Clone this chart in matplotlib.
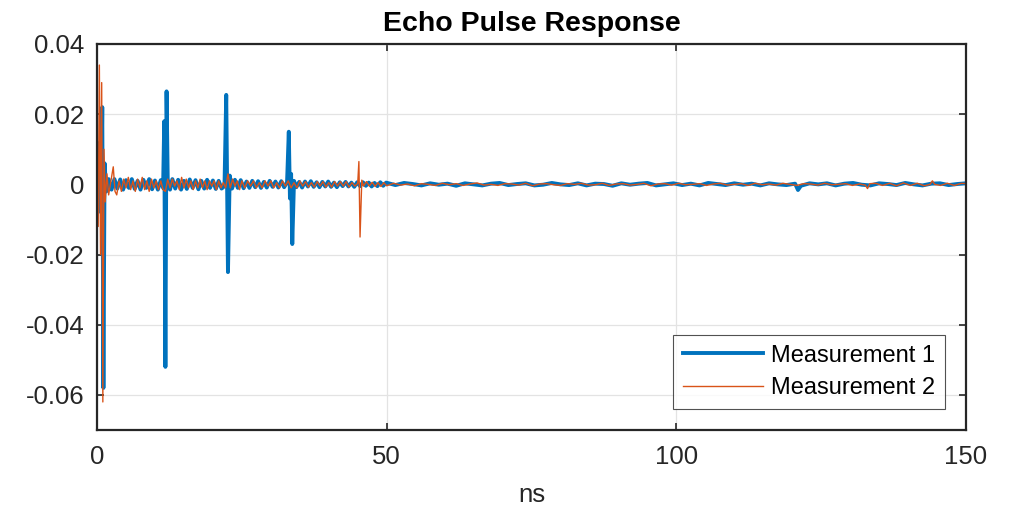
import numpy as np
import matplotlib.pyplot as plt

# ================================================================
# Echo pulse response: two measurements, values read off the plot
# amplitudes are given in units of 1e-3
# ================================================================

t_meas1 = [0, 0.3, 0.5, 0.7, 0.9, 1.1, 1.3, 1.6, 2.0, 2.5, 3.0, 3.5, 4.0, 4.5,
           5.0, 5.5, 6.0, 6.5, 7.0, 7.5, 8.0, 8.5, 9.0, 9.5, 10.0, 10.5, 11.0,
           11.4, 11.6, 11.8, 12.0, 12.2, 12.6, 13.0, 13.5, 14.0, 14.5, 15.0,
           15.5, 16.0, 16.5, 17.0, 17.5, 18.0, 18.5, 19.0, 19.5, 20.0, 20.5,
           21.0, 21.5, 22.0, 22.3, 22.6, 22.9, 23.3, 23.8, 24.3, 24.8, 25.3,
           25.8, 26.3, 26.8, 27.3, 27.8, 28.3, 28.8, 29.3, 29.8, 30.3, 30.8,
           31.3, 31.8, 32.3, 32.8, 33.1, 33.3, 33.5, 33.7, 34.0, 34.4, 34.9,
           35.4, 35.9, 36.4, 36.9, 37.4, 37.9, 38.4, 38.9, 39.4, 39.9, 40.4,
           40.9, 41.4, 41.9, 42.4, 42.9, 43.4, 43.9, 44.4, 44.9, 45.4, 45.9,
           46.4, 46.9, 47.4, 47.9, 48.4, 48.9, 49.4, 49.9,
           51.5, 53, 54.5, 56, 57.5, 59, 60.5, 62, 63.5, 65, 66.5, 68, 69.5,
           71, 72.5, 74, 75.5, 77, 78.5, 80, 81.5, 83, 84.5, 86, 87.5, 89,
           90.5, 92, 93.5, 95, 96.5, 98, 99.5, 101, 102.5, 104, 105.5, 107,
           108.5, 110, 111.5, 113, 114.5, 116, 117.5, 119, 120.5, 121.0,
           121.5, 123, 124.5, 126, 127.5, 129, 130.5, 132, 133.5, 135, 136.5,
           138, 139.5, 141, 142.5, 144, 145.5, 147, 148.5, 150]
v_meas1 = [0, 5, 12, -8, 22, -58, 6, -2, 1.5, -1.5, 1.5, -1.2, 1.4, -1.5,
           1.2, -1.0, 1.5, -1.3, 1.0, -1.5, 1.3, -1.0, 1.5, -1.4, 1.1, -1.5, 1.2,
           -1.0, 18, -52, 26.5, 1.5, -1.5, 1.5, -1.2, 1.3, -1.5, 1.0,
           -1.3, 1.4, -1.0, 1.2, -1.4, 1.0, -1.2, 1.3, -1.0, 1.1, -1.3,
           1.0, -1.2, -0.5, 25.5, -25, 2.5, -1.2, 1.3, -1.0, 1.2, -1.1,
           0.8, -1.0, 1.0, -0.8, 0.9, -1.0, 0.7, -0.9, 1.0, -0.7, 0.8,
           -0.9, 0.9, -0.8, 0.6, 15, -4, 3, -17, 1.0, -0.8, 0.7,
           -0.9, 0.8, -0.6, 0.9, -0.7, 0.6, -0.8, 0.7, -0.6, 0.8, -0.7,
           0.5, -0.8, 0.6, -0.5, 0.7, -0.6, 0.5, -0.7, 0.6, -0.5, 0.6,
           -0.4, 0.5, -0.6, 0.4, -0.5, 0.6, -0.4, 0.5,
           -0.2, 0.4, 0.1, -0.3, 0.3, -0.1, 0.2, -0.4, 0.3, 0.0, -0.3, 0.2, 0.4,
           -0.2, 0.1, 0.3, -0.3, -0.1, 0.4, 0.0, -0.2, 0.3, -0.3, 0.2, 0.1, -0.4,
           0.3, -0.1, 0.2, 0.4, -0.3, 0.0, 0.3, -0.2, 0.2, -0.3, 0.4, 0.1,
           -0.2, 0.3, -0.1, 0.2, -0.3, 0.3, 0.0, -0.2, 0.2, -1.6,
           -0.4, 0.3, 0.0, 0.3, -0.3, 0.2, 0.4, -0.1, -0.3, 0.3, 0.1,
           -0.2, 0.4, 0.0, -0.3, 0.2, 0.3, -0.2, 0.1, 0.3]

t_meas2 = [0, 0.2, 0.4, 0.6, 0.8, 1.0, 1.2, 1.4, 1.7, 2.0, 2.4, 2.8, 3.1, 3.4,
           3.8, 4.2, 4.6, 5.0, 5.4, 5.8, 6.2, 6.6, 7.0, 7.4, 7.8, 8.2, 8.6,
           9.0, 9.4, 9.8, 10.2, 10.6, 11.0, 11.4, 11.8, 12.2, 12.6, 13.0, 13.4,
           13.8, 14.2, 14.6, 15.0, 15.4, 15.8, 16.2, 16.6, 17.0, 17.4, 17.8,
           18.2, 18.6, 19.0, 19.4, 19.8, 20.2, 20.6, 21.0, 21.4, 21.8, 22.2,
           22.6, 23.0, 23.4, 23.8, 24.2, 24.6, 25.0, 25.5, 26.0, 26.5, 27.0,
           27.5, 28.0, 28.5, 29.0, 29.5, 30.0, 30.5, 31.0, 31.5, 32.0, 32.5,
           33.0, 33.5, 34.0, 34.5, 35.0, 35.5, 36.0, 36.5, 37.0, 37.5, 38.0,
           38.5, 39.0, 39.5, 40.0, 40.5, 41.0, 41.5, 42.0, 42.5, 43.0, 43.5,
           44.0, 44.5, 45.0, 45.2, 45.4, 45.7, 46.0, 46.5, 47.0, 47.5, 48.0,
           48.5, 49.0, 49.5, 50.0,
           51.2, 52.4, 53.6, 54.8, 56.0, 57.2, 58.4, 59.6, 60.8, 62.0, 63.2, 64.4,
           65.6, 66.8, 68.0, 69.2, 70.4, 71.6, 72.8, 74.0, 75.2, 76.4, 77.6, 78.8,
           80.0, 81.2, 82.4, 83.6, 84.8, 86.0, 87.2, 88.4, 89.6, 90.8, 92.0, 93.2,
           94.4, 95.6, 96.8, 98.0, 99.2, 100.4, 101.6, 102.8, 104.0, 105.2, 106.4, 107.6,
           108.8, 110.0, 111.2, 112.4, 113.6, 114.8, 116.0, 117.2, 118.4, 119.6, 120.8, 122.0,
           123.2, 124.4, 125.6, 126.8, 128.0, 129.2, 130.4, 131.6,
           132.6, 133.0, 133.4, 134.4, 135.6, 136.8, 138.0, 139.2, 140.4, 141.6,
           142.8, 143.8, 144.2, 144.6, 145.6, 146.8, 148.0, 149.2, 150.0]
v_meas2 = [0, -12, 34, -20, 29, -62, 10, -5, 3, -3, 1, 5, -2, -3,
           1, -2, 1.5, -1, 2, -1.5, 1, -2, 1.5, -1, 2, -1.5, 1,
           -2, 1.5, -1, 1, -1.5, 1, -1.5, -2, 1.5, -1, 1.5, -0.5,
           1, -1.5, 2, -1, 1.5, -1, 1, -1.5, 1, -1, 1.5,
           -1, 1, -1.5, 1, -0.5, 1, -1.5, 1, -1, 0.5, -1,
           3, -1, 1.5, -0.5, 1, -1.5, 1, -1, 1, -0.5, 1,
           -1, 0.5, -1, 1, -0.5, 1, -1, 0.5, -1, 1, -0.5,
           1, -1, 0.5, -1, 1, -0.5, 0.8, -0.8, 0.5, -0.8, 0.8,
           -0.5, 0.8, -0.8, 0.5, -0.8, 0.8, -0.5, 0.8, -0.5, 0.8, -0.8,
           0.5, -0.5, 0.3, 6.5, -15, 1.2, -0.5, 0.8, -0.5, 0.6, -0.6,
           0.5, -0.6, 0.5, -0.4,
           0.3, -0.2, 0.1, -0.4, 0.2, 0.0, -0.3, 0.3, -0.1, 0.2, -0.3, 0.1,
           0.4, -0.2, 0.0, -0.3, 0.2, 0.1, -0.2, 0.3, -0.4, 0.1, 0.2, -0.1,
           -0.3, 0.2, 0.0, 0.3, -0.2, -0.1, 0.3, -0.3, 0.1, 0.2, -0.2, 0.0,
           0.3, -0.4, 0.1, 0.2, -0.2, 0.3, -0.1, 0.0, 0.2, -0.3, 0.1, 0.3,
           -0.2, 0.0, 0.2, -0.3, 0.3, -0.1, 0.1, -0.2, 0.3, 0.0, -0.3, 0.2,
           0.1, -0.2, 0.3, -0.1, 0.0, 0.2, -0.3, 0.1,
           -0.2, -1.2, 0.2, 0.3, -0.3, 0.3, -0.4, 0.4, -0.3, 0.3,
           -0.4, 0.0, 1.0, 0.0, -0.3, 0.3, -0.3, 0.3, 0.2]

x_ticks = [0, 50, 100, 150]
y_ticks = [-0.06, -0.04, -0.02, 0, 0.02, 0.04]
y_tick_labels = ['-0.06', '-0.04', '-0.02', '0', '0.02', '0.04']

plt.rcParams['font.family'] = ['Liberation Sans', 'DejaVu Sans']

fig = plt.figure(figsize=(10.13, 5.08), dpi=100)
ax = fig.add_axes([0.0958, 0.1535, 0.8578, 0.7599])

ax.plot(t_meas1, np.array(v_meas1) * 1e-3, color='#0072BD', linewidth=2.8,
        label='Measurement 1')
ax.plot(t_meas2, np.array(v_meas2) * 1e-3, color='#D95319', linewidth=1.0,
        label='Measurement 2')

ax.set_xlim(0, 150)
ax.set_ylim(-0.07, 0.04)
ax.set_xticks(x_ticks)
ax.set_yticks(y_ticks)
ax.set_yticklabels(y_tick_labels)

ax.grid(True, color='#e3e3e3', linewidth=0.9)
ax.set_axisbelow(True)
for s in ax.spines.values():
    s.set_color('#262626')
    s.set_linewidth(1.6)
ax.tick_params(direction='in', length=5, width=1.2, colors='#262626',
               labelsize=18.5, top=True, right=True)
ax.tick_params(axis='x', pad=11)
ax.tick_params(axis='y', pad=9)

ax.set_title('Echo Pulse Response', fontsize=20.5, fontweight='bold', pad=9)
ax.set_xlabel('ns', fontsize=18.5, color='#262626', labelpad=10)

leg = ax.legend(loc='lower right', fontsize=17, frameon=True, fancybox=False,
                handlelength=3.4, borderpad=0.4, labelspacing=0.45,
                handletextpad=0.35, borderaxespad=0.9)
leg.get_frame().set_edgecolor('#262626')
leg.get_frame().set_linewidth(0.8)

fig.savefig('out.png', dpi=100)
